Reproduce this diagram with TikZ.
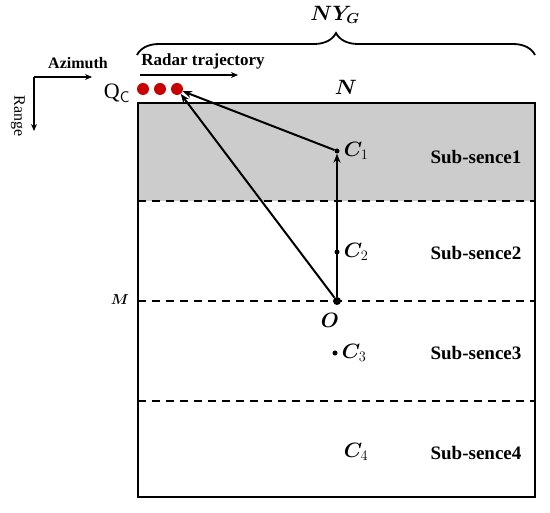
\documentclass[tikz,border=0pt]{standalone}
\usepackage{amsmath,amssymb,bm}
\usepackage{fontspec}
\setmainfont{Liberation Serif}
\usepackage{xcolor}
\usetikzlibrary{arrows.meta, positioning, decorations.pathreplacing}
\definecolor{dotred}{RGB}{200,0,0}
\definecolor{greyfill}{RGB}{204,204,204}
\tikzset{
  sublabel/.style={font=\fontsize{19}{21}\selectfont\bfseries, inner sep=1pt},
  cname/.style={font=\fontsize{22}{24}\selectfont, inner sep=1pt},
  point/.style={circle, fill=black, inner sep=0pt, minimum size=5pt},
  radar/.style={circle, fill=dotred, inner sep=0pt, minimum size=12pt},
  arrow/.style={-{Stealth[length=9pt,width=7pt]}, line width=2pt},
  axis/.style={-{Stealth[length=7pt,width=6pt]}, line width=1.8pt},
  dashline/.style={dashed, dash pattern=on 8pt off 6pt, line width=1.8pt},
}
\begin{document}
\begin{tikzpicture}[x=1pt,y=1pt]
  \useasboundingbox (0,0) rectangle (550,-513);
  % scene and sub-scenes
  \fill[greyfill] (138,-103) rectangle (535,-201);
  \draw[dashline] (138,-201) -- (535,-201);
  \draw[dashline] (138,-301) -- (535,-301);
  \draw[dashline] (138,-401) -- (535,-401);
  \draw[line width=2pt] (138,-103) rectangle (535,-497);
  \draw[line width=1.8pt, decorate, decoration={brace, amplitude=22pt, aspect=0.5}]
    (137,-55) -- (535,-55);
  \node[cname] (nyg) at (335,-15) {$\bm{NY_G}$};
  \node[cname] (n) at (346,-87) {$\bm{N}$};
  \node[font=\fontsize{14}{16}\selectfont] (m) at (120,-300) {$\bm{M}$};

  % points
  \node[point] (c1) at (337,-151) {};
  \node[point] (c2) at (337,-252) {};
  \node[point, minimum size=8pt] (o) at (337,-301) {};
  \node[point] (c3) at (335,-353) {};
  \node[cname, right=3pt of c1] (c1t) {$\bm{C}_1$};
  \node[cname, right=3pt of c2] (c2t) {$\bm{C}_2$};
  \node[cname, below left=8pt and -6pt of o] (ot) {$\bm{O}$};
  \node[cname, right=3pt of c3] (c3t) {$\bm{C}_3$};
  \node[cname] (c4t) at (356,-452) {$\bm{C}_4$};

  \node[sublabel] (s1) at (476,-157) {Sub-sence1};
  \node[sublabel] (s2) at (476,-253) {Sub-sence2};
  \node[sublabel] (s3) at (476,-353) {Sub-sence3};
  \node[sublabel] (s4) at (476,-453) {Sub-sence4};

  % radar
  \node[font=\fontsize{22}{24}\selectfont, inner sep=0pt] (qc) at (117,-93) {Q\textsubscript{\sffamily C}};
  \node[radar] (q1) at (143,-89) {};
  \node[radar] (q2) at (160,-89) {};
  \node[radar] (q3) at (177,-89) {};
  \node[font=\fontsize{17}{19}\selectfont\bfseries] (traj) at (203,-61) {Radar trajectory};
  \coordinate (t0) at (140,-75);
  \coordinate (t1) at (238,-75);
  \draw[axis] (t0) -- (t1);

  \draw[arrow] (o) -- (c1);
  \draw[arrow] (c1) -- (q3);
  \draw[arrow] (o) -- (q3);

  % axes
  \coordinate (ax) at (34,-77);
  \coordinate (az) at (92,-77);
  \coordinate (rg) at (34,-131);
  \draw[axis] (ax) -- (az);
  \draw[axis] (ax) -- (rg);
  \node[font=\fontsize{16}{18}\selectfont\bfseries] (azt) at (78,-63) {Azimuth};
  \node[font=\fontsize{16}{18}\selectfont, rotate=-90] (rgt) at (18,-116) {Range};
\end{tikzpicture}
\end{document}
